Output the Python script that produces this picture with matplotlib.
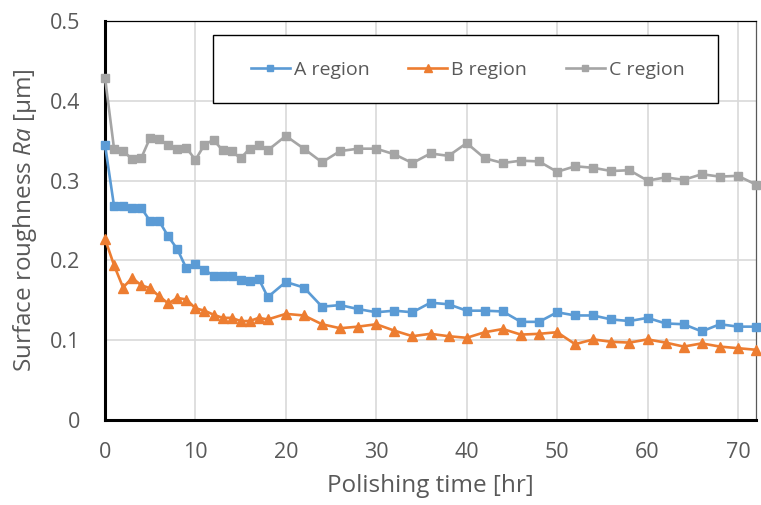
import matplotlib
matplotlib.use("Agg")
import matplotlib.pyplot as plt
from matplotlib.patches import Rectangle

plt.rcParams['font.family'] = ['Open Sans', 'DejaVu Sans']
plt.rcParams['mathtext.fontset'] = 'custom'
plt.rcParams['mathtext.it'] = 'Open Sans:italic'
plt.rcParams['mathtext.rm'] = 'Open Sans'

# polishing time [hr]
hours = list(range(0, 19)) + list(range(20, 73, 2))

a_region = [0.345, 0.268, 0.268, 0.266, 0.266, 0.249, 0.249, 0.230, 0.214, 0.190,
            0.195, 0.188, 0.181, 0.181, 0.181, 0.176, 0.174, 0.177, 0.154,
            0.173, 0.166, 0.142, 0.144, 0.139, 0.135, 0.137, 0.135, 0.147, 0.145,
            0.137, 0.137, 0.136, 0.123, 0.123, 0.135, 0.131, 0.131, 0.126, 0.124,
            0.128, 0.121, 0.120, 0.111, 0.120, 0.117, 0.117]
b_region = [0.227, 0.194, 0.166, 0.178, 0.169, 0.165, 0.155, 0.146, 0.153, 0.151,
            0.140, 0.137, 0.132, 0.128, 0.128, 0.124, 0.124, 0.128, 0.126,
            0.133, 0.131, 0.120, 0.115, 0.117, 0.120, 0.112, 0.105, 0.108, 0.105,
            0.103, 0.110, 0.114, 0.107, 0.108, 0.110, 0.095, 0.101, 0.098, 0.097,
            0.101, 0.097, 0.092, 0.096, 0.092, 0.090, 0.088]
c_region = [0.429, 0.340, 0.337, 0.327, 0.328, 0.354, 0.352, 0.344, 0.340, 0.341,
            0.326, 0.345, 0.351, 0.338, 0.337, 0.328, 0.340, 0.344, 0.338,
            0.356, 0.340, 0.323, 0.337, 0.340, 0.340, 0.333, 0.322, 0.334, 0.331,
            0.347, 0.328, 0.322, 0.325, 0.324, 0.311, 0.318, 0.316, 0.312, 0.313,
            0.300, 0.304, 0.301, 0.308, 0.305, 0.306, 0.295]

txt = '#595959'
fig = plt.figure(figsize=(7.61, 5.05), dpi=100)
ax = fig.add_axes([105 / 761, 85 / 505, 651 / 761, 399 / 505])

ax.plot(hours, a_region, color='#5B9BD5', marker='s', ms=5.5, lw=1.9,
        label='A region', clip_on=False, zorder=5)
ax.plot(hours, b_region, color='#ED7D31', marker='^', ms=7, lw=1.9,
        label='B region', clip_on=False, zorder=5)
ax.plot(hours, c_region, color='#A5A5A5', marker='s', ms=5.5, lw=1.9,
        label='C region', clip_on=False, zorder=5)

ax.set_xlim(0, 72)
ax.set_ylim(0, 0.5)
ax.set_xticks(range(0, 71, 10))
ax.set_yticks([0, 0.1, 0.2, 0.3, 0.4, 0.5])
ax.set_yticklabels(['0', '0.1', '0.2', '0.3', '0.4', '0.5'])
ax.grid(True, color='#D9D9D9', lw=1.2)
ax.set_axisbelow(True)
ax.tick_params(length=0, labelsize=15.5, colors=txt)
ax.tick_params(axis='y', pad=18)
ax.tick_params(axis='x', pad=16)

ax.spines['left'].set_linewidth(2.2)
ax.spines['bottom'].set_linewidth(2.2)
ax.spines['left'].set_color('black')
ax.spines['bottom'].set_color('black')
ax.spines['top'].set_linewidth(0.9)
ax.spines['top'].set_color('black')
ax.spines['right'].set_linewidth(0.9)
ax.spines['right'].set_color('#595959')

ax.set_xlabel('Polishing time [hr]', fontsize=17.5, color=txt, labelpad=8)
ax.set_ylabel(r'Surface roughness $\mathit{Ra}$ [μm]', fontsize=17.5, color=txt, labelpad=8)

# legend frame drawn separately (wider horizontal padding than vertical)
frame = Rectangle((0.166, 0.794), 0.776, 0.171, transform=ax.transAxes,
                  facecolor='white', edgecolor='black', lw=1.0, zorder=6)
ax.add_patch(frame)
leg = ax.legend(loc='center', bbox_to_anchor=(0.557, 0.878), ncol=3,
                fontsize=14, frameon=False, handlelength=2.0,
                handletextpad=0.2, columnspacing=2.0, markerscale=0.8)
leg.set_zorder(7)
for t in leg.get_texts():
    t.set_color(txt)

fig.savefig('out.png', dpi=100)
